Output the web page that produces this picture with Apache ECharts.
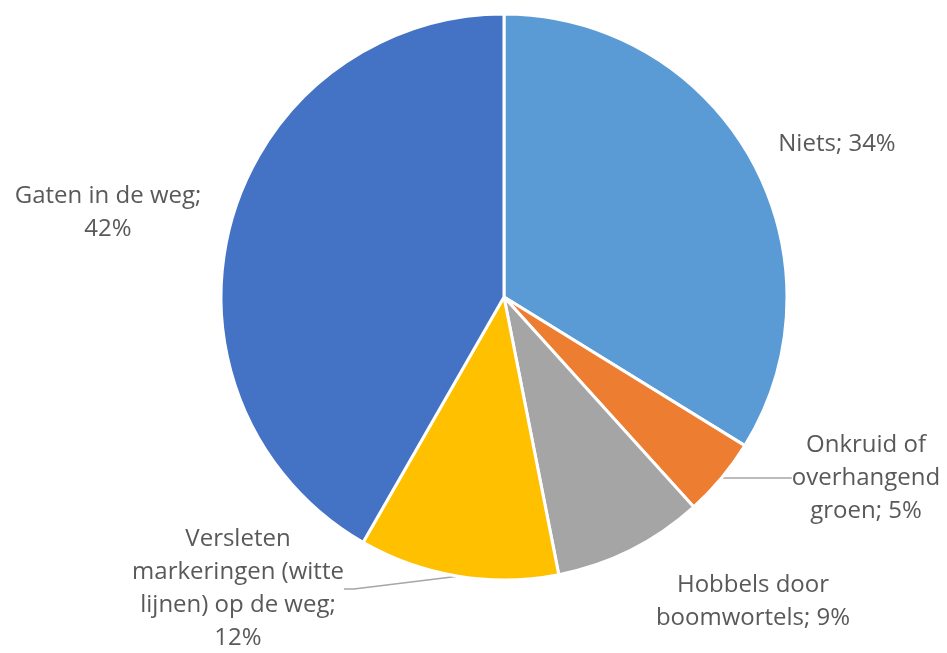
<!DOCTYPE html>
<html>
<head>
<meta charset="utf-8">
<script src="https://cdn.jsdelivr.net/npm/echarts@6/dist/echarts.min.js"></script>
<style>
  html, body { margin: 0; padding: 0; background: #fff; }
  #main { width: 947px; height: 653px; }
</style>
</head>
<body>
<div id="main"></div>
<script>
// slices, clockwise from 12 o'clock
const categories = ['Niets', 'Onkruid of overhangend groen', 'Hobbels door boomwortels', 'Versleten markeringen (witte lijnen) op de weg', 'Gaten in de weg']
const values = [33.8, 4.5, 8.6, 11.4, 41.7]
const percentLabels = ['34%', '5%', '9%', '12%', '42%']
const labelLinesText = [
  ['Niets; 34%'],
  ['Onkruid of', 'overhangend', 'groen; 5%'],
  ['Hobbels door', 'boomwortels; 9%'],
  ['Versleten', 'markeringen (witte', 'lijnen) op de weg;', '12%'],
  ['Gaten in de weg;', '42%']
]
const colors = ['#5B9BD5', '#ED7D31', '#A5A5A5', '#FFC000', '#4472C4']

// label anchor points (centre of each label block) and which ones get a leader line
const labelPos = [[837, 144], [866, 478], [753, 602], [238, 589], [108, 213]]
const withLine = [1, 3]

const chart = echarts.init(document.getElementById('main'))
const pieData = categories.map((name, i) => ({
  name: name,
  value: values[i],
  itemStyle: { color: colors[i] },
  labelLine: { show: withLine.indexOf(i) >= 0 }
}))

chart.setOption({
  animation: false,
  series: [{
    type: 'pie',
    center: [504, 297],
    radius: 283,
    startAngle: 90,
    clockwise: true,
    data: pieData,
    itemStyle: {
      borderColor: '#fff',
      borderWidth: 3
    },
    label: {
      show: true,
      position: 'outside',
      color: '#595959',
      fontFamily: 'Open Sans',
      fontSize: 24,
      lineHeight: 33,
      align: 'center',
      formatter: p => labelLinesText[p.dataIndex].join('\n')
    },
    labelLine: {
      length: 10,
      length2: 10,
      lineStyle: { color: '#A6A6A6', width: 1.5 }
    },
    labelLayout: p => ({
      x: labelPos[p.dataIndex][0],
      y: labelPos[p.dataIndex][1],
      align: 'center',
      verticalAlign: 'middle'
    })
  }]
})
</script>
</body>
</html>
